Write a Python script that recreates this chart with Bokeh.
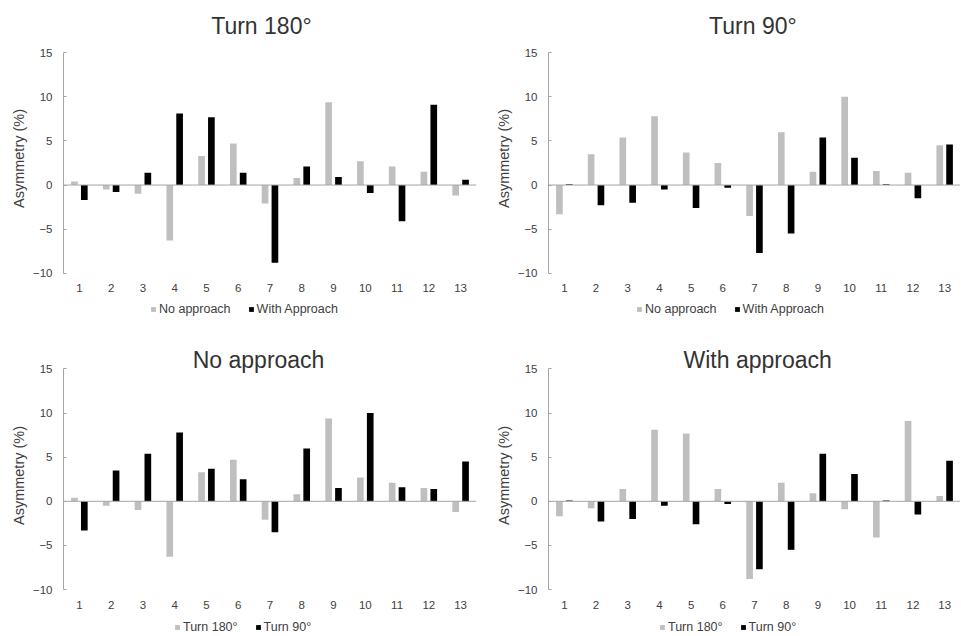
from bokeh.plotting import figure
from bokeh.models import Range1d, Span, Legend, LegendItem, ColumnDataSource
from bokeh.layouts import column, row
from bokeh.transform import dodge
from bokeh.embed import file_html
from bokeh.resources import INLINE
from bokeh.core.properties import value

participants = list(range(1, 14))
turn180_no = [0.4, -0.5, -1.0, -6.3, 3.3, 4.7, -2.1, 0.8, 9.4, 2.7, 2.1, 1.5, -1.2]
turn180_with = [-1.7, -0.8, 1.4, 8.1, 7.7, 1.4, -8.8, 2.1, 0.9, -0.9, -4.1, 9.1, 0.6]
turn90_no = [-3.3, 3.5, 5.4, 7.8, 3.7, 2.5, -3.5, 6.0, 1.5, 10.0, 1.6, 1.4, 4.5]
turn90_with = [0.1, -2.3, -2.0, -0.5, -2.6, -0.3, -7.7, -5.5, 5.4, 3.1, 0.1, -1.5, 4.6]
y_ticks = [-10, -5, 0, 5, 10, 15]

FONT = "Liberation Sans"
GRAY = "#bfbfbf"
BLACK = "#000000"
AXIS = "#a6a6a6"
TEXT = "#404040"


def make_panel(title, a, b, la, lb, width, height, border_left, border_right,
               ytop, ybot, title_x, title_y, legend_x):
    p = figure(width=width, height=height, x_range=Range1d(0.5, 13.5),
               y_range=Range1d(ybot, ytop), output_backend="svg",
               toolbar_location=None, min_border_left=border_left,
               min_border_right=border_right, min_border_top=0, min_border_bottom=0)
    p.outline_line_color = None
    p.grid.visible = False
    src = ColumnDataSource(dict(x=participants, a=a, b=b))
    r1 = p.vbar(x=dodge("x", -0.155), top="a", bottom=0, width=0.21,
                source=src, fill_color=GRAY, line_color=None)
    r2 = p.vbar(x=dodge("x", 0.155), top="b", bottom=0, width=0.21,
                source=src, fill_color=BLACK, line_color=None)
    p.add_layout(Span(location=0, dimension="width", line_color=AXIS, line_width=1))

    xa = p.xaxis[0]
    xa.ticker = participants
    xa.fixed_location = -10
    xa.axis_line_color = None
    xa.major_tick_line_color = None
    xa.minor_tick_line_color = None
    xa.major_label_standoff = 5
    xa.major_label_text_font = FONT
    xa.major_label_text_font_size = "11.5px"
    xa.major_label_text_color = TEXT

    ya = p.yaxis[0]
    ya.ticker = y_ticks
    ya.bounds = (-10, 15)
    ya.axis_line_color = AXIS
    ya.major_tick_line_color = AXIS
    ya.major_tick_in = 3
    ya.major_tick_out = 0
    ya.minor_tick_line_color = None
    ya.major_label_standoff = 11
    ya.major_label_text_font = FONT
    ya.major_label_text_font_size = "11.5px"
    ya.major_label_text_color = TEXT
    ya.axis_label = "Asymmetry (%)"
    ya.axis_label_standoff = 3
    ya.axis_label_text_font = FONT
    ya.axis_label_text_font_size = "14.5px"
    ya.axis_label_text_font_style = "normal"
    ya.axis_label_text_color = TEXT

    p.text(x=[title_x], y=[title_y], text=[title], text_font=value(FONT),
           text_font_size="23px", text_align="center", text_baseline="middle",
           text_color="#333333")

    legend = Legend(items=[LegendItem(label=la, renderers=[r1]),
                           LegendItem(label=lb, renderers=[r2])],
                    orientation="horizontal", location=(legend_x, 0),
                    glyph_width=6, glyph_height=6, label_standoff=3,
                    label_height=14, spacing=17, padding=0, margin=0,
                    label_text_font=FONT, label_text_font_size="12.5px",
                    label_text_color=TEXT, border_line_color=None,
                    background_fill_alpha=0)
    p.add_layout(legend, "center")
    return p


p1 = make_panel("Turn 180°", turn180_no, turn180_with, "No approach", "With Approach",
                480, 316, 63, 4, 20.93, -14.91, 6.73, 18.09, 87)
p2 = make_panel("Turn 90°", turn90_no, turn90_with, "No approach", "With Approach",
                480, 316, 68, 0, 20.93, -14.91, 6.95, 18.09, 88)
p3 = make_panel("No approach", turn180_no, turn90_no, "Turn 180°", "Turn 90°",
                480, 318, 63, 4, 20.95, -15.10, 6.64, 16.07, 111)
p4 = make_panel("With approach", turn180_with, turn90_with, "Turn 180°", "Turn 90°",
                480, 318, 68, 0, 20.95, -15.10, 7.10, 16.07, 111)

layout = column(row(p1, p2, spacing=0), row(p3, p4, spacing=0), spacing=0)
open("out.html", "w").write(file_html(layout, INLINE))
